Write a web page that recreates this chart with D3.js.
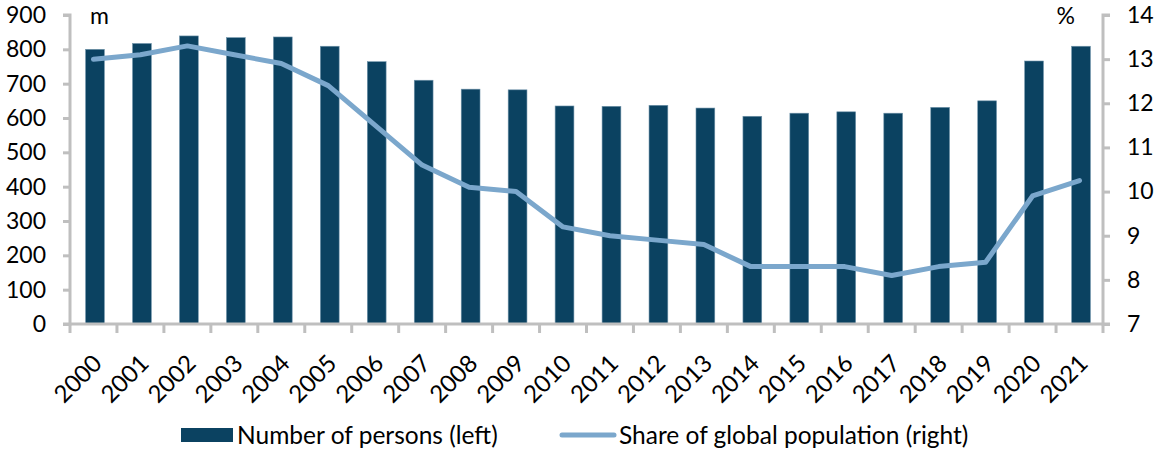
<!DOCTYPE html>
<html>
<head>
<meta charset="utf-8">
<script src="https://cdn.jsdelivr.net/npm/d3@7"></script>
<style>
  body { margin: 0; background: #fff; }
  svg text { font-family: Lato, "Open Sans", sans-serif; fill: #000; }
</style>
</head>
<body>
<svg id="chart" width="1158" height="450"></svg>
<script>
const years = ["2000","2001","2002","2003","2004","2005","2006","2007","2008","2009","2010",
  "2011","2012","2013","2014","2015","2016","2017","2018","2019","2020","2021"];
const persons = [800, 817, 839, 834, 836, 809, 764, 710, 684, 682, 635,
  634, 637, 629, 605, 614, 618, 614, 631, 650, 766, 809];
const share = [13.0, 13.1, 13.3, 13.1, 12.9, 12.4, 11.5, 10.6, 10.1, 10.0, 9.2,
  9.0, 8.9, 8.8, 8.3, 8.3, 8.3, 8.1, 8.3, 8.4, 9.9, 10.25];
const leftTicks = [0, 100, 200, 300, 400, 500, 600, 700, 800, 900];
const rightTicks = [7, 8, 9, 10, 11, 12, 13, 14];

const margin = { top: 15, bottom: 126, left: 70, right: 55 };
const W = 1158, H = 450;
const width = W - margin.left - margin.right;
const height = H - margin.top - margin.bottom;

const barColor = "#0B4261";
const lineColor = "#7BA7CC";
const axisColor = "#BFBFBF";
const fontSize = "23px";

const svg = d3.select("#chart");
const g = svg.append("g")
  .attr("transform", "translate(" + margin.left + "," + margin.top + ")");

const x = d3.scaleBand().domain(years).range([0, width]).paddingInner(0);
const yL = d3.scaleLinear().domain([0, 900]).range([height, 0]);
const yR = d3.scaleLinear().domain([7, 14]).range([height, 0]);

/*bars*/
const barW = x.bandwidth() * 0.4;
g.selectAll("rect.bar")
  .data(persons)
  .enter()
  .append("rect")
  .attr("class", "bar")
  .attr("x", (d, i) => x(years[i]) + x.bandwidth() / 2 - barW / 2 + 1.5)
  .attr("y", d => yL(d))
  .attr("width", barW)
  .attr("height", d => height - yL(d))
  .attr("fill", barColor)
  .attr("stroke", "#6F93AA")
  .attr("stroke-width", 0.6);

/*line*/
const line = d3.line()
  .x((d, i) => x(years[i]) + x.bandwidth() / 2)
  .y(d => yR(d));
g.append("path")
  .datum(share)
  .attr("d", line)
  .attr("fill", "none")
  .attr("stroke", lineColor)
  .attr("stroke-width", 5)
  .attr("stroke-linejoin", "round")
  .attr("stroke-linecap", "round");

/*left axis*/
const axisLeft = d3.axisLeft(yL).tickValues(leftTicks).tickSize(7).tickPadding(17);
const gl = g.append("g").call(axisLeft);
/*right axis*/
const axisRight = d3.axisRight(yR).tickValues(rightTicks).tickFormat(d3.format("d"))
  .tickSize(7).tickPadding(17);
const gr = g.append("g").attr("transform", "translate(" + width + ",0)").call(axisRight);
/*bottom axis: ticks at category boundaries*/
const bounds = years.map(d => x(d)).concat([width]);
const gb = g.append("g").attr("transform", "translate(0," + height + ")");
gb.append("line").attr("x1", 0).attr("x2", width).attr("y1", 0).attr("y2", 0)
  .attr("stroke", axisColor).attr("stroke-width", 3);
gb.selectAll("line.tk").data(bounds).enter().append("line")
  .attr("class", "tk")
  .attr("x1", d => d).attr("x2", d => d).attr("y1", 0).attr("y2", 9)
  .attr("stroke", axisColor).attr("stroke-width", 3);
gb.selectAll("text").data(years).enter().append("text")
  .attr("transform", d => "translate(" + (x(d) + x.bandwidth() / 2 + 4) + "," + 35 + ") rotate(-45)")
  .attr("text-anchor", "end")
  .attr("dy", "0.35em")
  .style("font-size", "24px")
  .text(d => d);

[gl, gr].forEach(a => {
  a.select(".domain").attr("stroke", axisColor).attr("stroke-width", 3);
  a.selectAll(".tick line").attr("stroke", axisColor).attr("stroke-width", 3);
  a.selectAll(".tick text").style("font-size", fontSize).attr("fill", "#000");
});
gl.select(".domain").attr("d", "M-7,0H0V" + height + "H-7");
gr.select(".domain").attr("d", "M7,0H0V" + height + "H7");

/*unit labels*/
g.append("text").attr("x", 20).attr("y", 9).style("font-size", fontSize).text("m");
g.append("text").attr("x", width - 28).attr("y", 9).attr("text-anchor", "end")
  .style("font-size", fontSize).text("%");

/*legend*/
const lg = svg.append("g").attr("transform", "translate(0,435)");
lg.append("rect").attr("x", 181).attr("y", -7).attr("width", 52).attr("height", 14)
  .attr("fill", barColor);
lg.append("text").attr("x", 237).attr("y", 0).attr("dy", "0.35em")
  .style("font-size", "24.5px").text("Number of persons (left)");
lg.append("line").attr("x1", 562).attr("x2", 614).attr("y1", 0).attr("y2", 0)
  .attr("stroke", lineColor).attr("stroke-width", 5).attr("stroke-linecap", "round");
lg.append("text").attr("x", 619).attr("y", 0).attr("dy", "0.35em")
  .style("font-size", "24.5px").text("Share of global population (right)");
</script>
</body>
</html>
